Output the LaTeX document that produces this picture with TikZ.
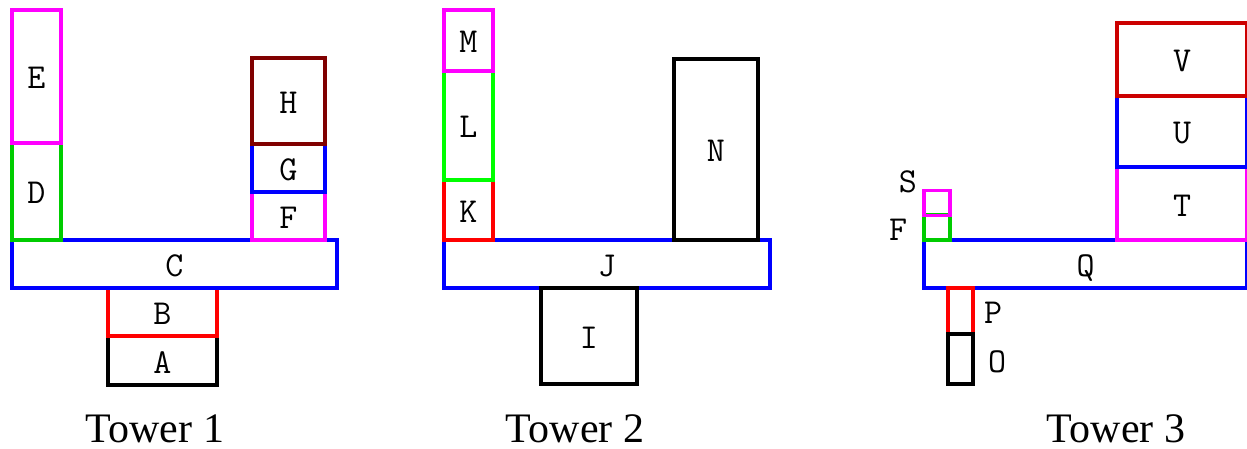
\documentclass[tikz,border=0pt]{standalone}
\usepackage{fontspec}
\setmainfont{Liberation Serif}
\usetikzlibrary{
    positioning,
    calc
}
\definecolor{pink}{RGB}{255,0,255}
\definecolor{grass}{RGB}{0,204,0}
\definecolor{lime}{RGB}{0,255,0}
\definecolor{brick}{RGB}{204,0,0}
\definecolor{maroon}{RGB}{128,0,0}
\tikzset{
    % --- One block of a tower (size given per block) ---
    block/.style = {
        rectangle, draw, line width=3.5pt,
        inner sep=0pt, outer sep=0pt,
        font=\ttfamily\fontsize{35pt}{35pt}\selectfont,
        text height=25pt, text depth=0pt
    },
    % --- Letter set beside a thin block ---
    tag/.style = {
        inner sep=0pt,
        font=\ttfamily\fontsize{35pt}{35pt}\selectfont,
        text height=25pt, text depth=0pt
    },
    % --- Tower caption ---
    tower label/.style = {
        anchor=base, inner sep=0pt, text depth=0pt,
        font=\fontsize{42pt}{42pt}\selectfont
    }
}

\begin{document}
\begin{tikzpicture}[x=1pt, y=-1pt]

\useasboundingbox (0,0) rectangle (1247,449);

% ---------------------------------------------------------
% Tower 1
% ---------------------------------------------------------
\node[block, draw=black, minimum width=109pt, minimum height=49pt] (A) at (162.5, 360.5) {A};
\node[block, draw=red, minimum width=109pt, minimum height=48pt] (B) at (162.5, 312) {B};
\node[block, draw=blue, minimum width=325pt, minimum height=48pt] (C) at (174.5, 264) {C};
\node[block, draw=grass, minimum width=49pt, minimum height=97pt] (D) at (36.5, 191.5) {D};
\node[block, draw=pink, minimum width=49pt, minimum height=133pt] (E) at (36.5, 76.5) {E};
\node[block, draw=pink, minimum width=73pt, minimum height=48pt] (F) at (288.5, 216) {F};
\node[block, draw=blue, minimum width=73pt, minimum height=48pt] (G) at (288.5, 168) {G};
\node[block, draw=maroon, minimum width=73pt, minimum height=86pt] (H) at (288.5, 101) {H};

\node[tower label] (Tw1) at (155, 442) {Tower 1};

% ---------------------------------------------------------
% Tower 2
% ---------------------------------------------------------
\node[block, draw=blue, minimum width=326pt, minimum height=48pt] (J) at (607, 264) {J};
\node[block, draw=black, minimum width=96pt, minimum height=96pt] (I) at (589, 336) {I};
\node[block, draw=red, minimum width=49pt, minimum height=60pt] (K) at (468.5, 210) {K};
\node[block, draw=lime, minimum width=49pt, minimum height=109pt] (L) at (468.5, 125.5) {L};
\node[block, draw=pink, minimum width=49pt, minimum height=61pt] (M) at (468.5, 40.5) {M};
\node[block, draw=black, minimum width=84pt, minimum height=181pt] (N) at (716, 149.5) {N};

\node[tower label] (Tw2) at (575, 442) {Tower 2};

% ---------------------------------------------------------
% Tower 3
% ---------------------------------------------------------
\node[block, draw=blue, minimum width=323pt, minimum height=48pt] (Q) at (1085.5, 264) {Q};
\node[block, draw=red, minimum width=25pt, minimum height=46pt] (P) at (960.5, 311) {};
\node[block, draw=black, minimum width=25pt, minimum height=50pt] (O) at (960.5, 359) {};
\node[block, draw=grass, minimum width=26pt, minimum height=25pt] (F3) at (937, 227.5) {};
\node[block, draw=pink, minimum width=26pt, minimum height=24pt] (S) at (937, 203) {};
\node[block, draw=pink, minimum width=130pt, minimum height=73pt] (T) at (1182, 203.5) {T};
\node[block, draw=blue, minimum width=130pt, minimum height=71pt] (U) at (1182, 131.5) {U};
\node[block, draw=brick, minimum width=130pt, minimum height=73pt] (V) at (1182, 59.5) {V};

% letters beside the thin blocks
\node[tag] (Slab) at ($(S.north west) + (-16, -10)$) {S};
\node[tag] (F3lab) at ($(F3.west) + (-26, 0.5)$) {F};
\node[tag] (Plab) at ($(P.east) + (20, 0)$) {P};
\node[tag] (Olab) at ($(O.east) + (24, 1)$) {O};

\node[tower label] (Tw3) at (1116, 442) {Tower 3};

\end{tikzpicture}
\end{document}
